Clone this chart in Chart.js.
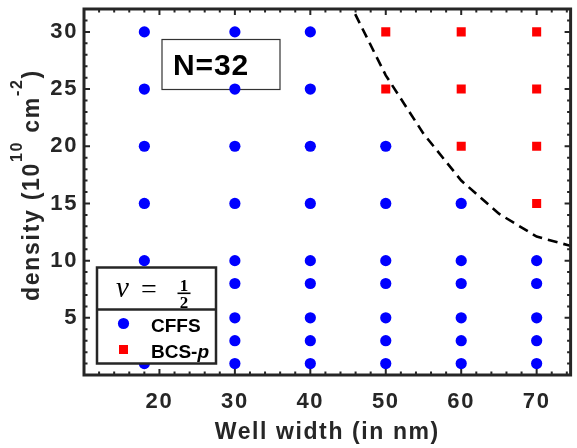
<!DOCTYPE html>
<html lang="en">
<head>
<meta charset="UTF-8">
<title>N=32</title>
<script src="https://cdn.jsdelivr.net/npm/chart.js"></script>
<style>
  html, body { margin: 0; padding: 0; background: #fff; }
</style>
</head>
<body>
<canvas id="grafico" width="577" height="448"></canvas>
<script>
// dados
const wellWidths = [18, 30, 40, 50, 60, 70];
const cffsDensities = [
  [1, 3, 5, 8, 10, 15, 20, 25, 30],
  [1, 3, 5, 8, 10, 15, 20, 25, 30],
  [1, 3, 5, 8, 10, 15, 20, 25, 30],
  [1, 3, 5, 8, 10, 15, 20],
  [1, 3, 5, 8, 10, 15],
  [1, 3, 5, 8, 10]
];
const bcsDensities = [
  [],
  [],
  [],
  [25, 30],
  [20, 25, 30],
  [15, 20, 25, 30]
];
const boundaryWidths = [45, 50, 55, 60, 65, 70, 75];
const boundaryDensities = [32.8, 26.2, 21.1, 17.0, 14.1, 12.1, 11.2];
const xTickLabels = [20, 30, 40, 50, 60, 70];
const yTickLabels = [5, 10, 15, 20, 25, 30];

const corEixo = '#262626';
const fonte = 'Liberation Sans, Arial, sans-serif';

function pontos(lista) {
  const out = [];
  for (let i = 0; i < wellWidths.length; i++) {
    for (const d of lista[i]) out.push({ x: wellWidths[i], y: d });
  }
  return out;
}

const linhaLimite = boundaryWidths.map((w, i) => ({ x: w, y: boundaryDensities[i] }));

// espacamento das letras dos eixos (texto do matlab sai mais largo)
const espacamento = {
  id: 'espacamento',
  beforeDraw(chart) { chart.ctx.letterSpacing = '1.6px'; },
  afterDraw(chart) { chart.ctx.letterSpacing = '0px'; }
};

// moldura com ticks para dentro
const moldura = {
  id: 'moldura',
  afterDatasetsDraw(chart) {
    const { ctx, chartArea: a, scales } = chart;
    const sx = scales.x, sy = scales.y;
    ctx.save();
    ctx.strokeStyle = corEixo;
    ctx.lineWidth = 2;
    ctx.beginPath();
    for (let v = 10; v <= 74; v += 2) {
      const px = sx.getPixelForValue(v);
      const len = xTickLabels.includes(v) ? 6 : 3.5;
      ctx.moveTo(px, a.bottom); ctx.lineTo(px, a.bottom - len);
      ctx.moveTo(px, a.top); ctx.lineTo(px, a.top + len);
    }
    for (let v = 1; v < 32; v++) {
      const py = sy.getPixelForValue(v);
      const len = yTickLabels.includes(v) ? 6 : 3.5;
      ctx.moveTo(a.left, py); ctx.lineTo(a.left + len, py);
      ctx.moveTo(a.right, py); ctx.lineTo(a.right - len, py);
    }
    ctx.stroke();
    ctx.lineWidth = 3;
    ctx.strokeRect(a.left, a.top, a.right - a.left, a.bottom - a.top);
    ctx.restore();
  }
};

// caixa N=32 (atras dos pontos)
const caixaN = {
  id: 'caixaN',
  beforeDatasetsDraw(chart) {
    const ctx = chart.ctx;
    ctx.save();
    ctx.letterSpacing = '0.8px';
    ctx.strokeStyle = '#333';
    ctx.lineWidth = 1.2;
    ctx.strokeRect(162, 39.5, 118, 50);
    ctx.fillStyle = '#000';
    ctx.font = 'bold 30px ' + fonte;
    ctx.textAlign = 'center';
    ctx.textBaseline = 'alphabetic';
    ctx.fillText('N=32', 211, 75);
    ctx.restore();
  }
};

// legenda desenhada dentro da area
const legenda = {
  id: 'legenda',
  afterDraw(chart) {
    const ctx = chart.ctx;
    const x0 = 97, y0 = 267.5, w = 119, h = 96, div = 309.5;
    ctx.save();
    ctx.letterSpacing = '0px';
    ctx.fillStyle = '#fff';
    ctx.fillRect(x0, y0, w, h);
    ctx.strokeStyle = corEixo;
    ctx.lineWidth = 2.5;
    ctx.strokeRect(x0, y0, w, h);
    ctx.beginPath();
    ctx.moveTo(x0, div); ctx.lineTo(x0 + w, div);
    ctx.stroke();

    // titulo nu = 1/2
    ctx.fillStyle = '#000';
    ctx.textBaseline = 'alphabetic';
    ctx.textAlign = 'left';
    ctx.font = 'italic 29px Liberation Serif, serif';
    ctx.fillText('\u03bd', 116, 296.5);
    ctx.font = '28px Liberation Serif, serif';
    ctx.fillText('=', 141, 297.5);
    ctx.textAlign = 'center';
    ctx.font = 'bold 17px Liberation Serif, serif';
    ctx.fillText('1', 184, 290.5);
    ctx.fillText('2', 184, 307.5);
    ctx.fillRect(177.5, 292.5, 13, 1.6);

    // itens
    const ds = chart.data.datasets;
    const itens = [
      { d: ds[0], y: 323.5 },
      { d: ds[1], y: 349.5 }
    ];
    for (const it of itens) {
      ctx.fillStyle = it.d.backgroundColor;
      Chart.helpers.drawPoint(ctx, {
        pointStyle: it.d.pointStyle,
        radius: it.d.pointRadius,
        borderWidth: 0,
        rotation: 0
      }, 123.5, it.y);
    }
    ctx.fillStyle = '#000';
    ctx.textAlign = 'left';
    ctx.font = 'bold 19px ' + fonte;
    ctx.fillText('CFFS', 151, 331.5);
    ctx.fillText('BCS-', 151, 357.5);
    const wb = ctx.measureText('BCS-').width;
    ctx.font = 'italic bold 19px ' + fonte;
    ctx.fillText('p', 151 + wb, 357.5);
    ctx.restore();
  }
};

// titulo do eixo y com expoentes
const tituloY = {
  id: 'tituloY',
  afterDraw(chart) {
    const ctx = chart.ctx;
    const partes = [
      { t: 'density (10', s: 23, dy: 0 },
      { t: '10', s: 16, dy: -17 },
      { t: ' cm', s: 23, dy: 0 },
      { t: '-2', s: 16, dy: -17 },
      { t: ')', s: 23, dy: 0 }
    ];
    ctx.save();
    ctx.letterSpacing = '1.7px';
    ctx.fillStyle = corEixo;
    ctx.textBaseline = 'alphabetic';
    ctx.textAlign = 'left';
    let total = 0;
    for (const p of partes) {
      ctx.font = 'bold ' + p.s + 'px ' + fonte;
      p.w = ctx.measureText(p.t).width;
      total += p.w;
    }
    ctx.translate(39, 185);
    ctx.rotate(-Math.PI / 2);
    let cx = -total / 2;
    for (const p of partes) {
      ctx.font = 'bold ' + p.s + 'px ' + fonte;
      ctx.fillText(p.t, cx, p.dy);
      cx += p.w;
    }
    ctx.restore();
  }
};

const ctx = document.getElementById('grafico');

new Chart(ctx, {
  type: 'scatter',
  data: {
    datasets: [
      {
        label: 'CFFS',
        data: pontos(cffsDensities),
        backgroundColor: '#0000ff',
        borderColor: '#0000ff',
        borderWidth: 0,
        pointStyle: 'circle',
        pointRadius: 5.6,
        pointHoverRadius: 5.6
      },
      {
        label: 'BCS-p',
        data: pontos(bcsDensities),
        backgroundColor: '#ff0000',
        borderColor: '#ff0000',
        borderWidth: 0,
        pointStyle: 'rect',
        pointRadius: 6.4,
        pointHoverRadius: 6.4
      },
      {
        type: 'line',
        label: 'limite',
        data: linhaLimite,
        borderColor: '#000',
        borderWidth: 2.6,
        borderDash: [10, 6],
        pointRadius: 0,
        fill: false,
        tension: 0
      }
    ]
  },
  options: {
    responsive: false,
    devicePixelRatio: 1,
    animation: false,
    events: [],
    layout: { padding: { top: 9, right: 4, left: 0, bottom: 0 } },
    plugins: {
      legend: { display: false },
      tooltip: { enabled: false }
    },
    scales: {
      x: {
        type: 'linear',
        min: 10,
        max: 74.5,
        afterBuildTicks: s => { s.ticks = xTickLabels.map(v => ({ value: v })); },
        afterFit: s => { s.height = 73; s.paddingLeft = 0; s.paddingRight = 0; },
        grid: { display: false, drawTicks: false },
        border: { display: false },
        ticks: {
          font: { family: fonte, size: 22, weight: 'bold' },
          color: corEixo,
          padding: 14,
          maxRotation: 0,
          autoSkip: false
        },
        title: {
          display: true,
          text: 'Well width (in nm)',
          font: { family: fonte, size: 23, weight: 'bold' },
          color: corEixo,
          padding: { top: 0, bottom: 2 }
        }
      },
      y: {
        min: 0,
        max: 32,
        afterBuildTicks: s => { s.ticks = yTickLabels.map(v => ({ value: v })); },
        afterFit: s => { s.width = 84; s.paddingTop = 0; s.paddingBottom = 0; },
        grid: { display: false, drawTicks: false },
        border: { display: false },
        ticks: {
          font: { family: fonte, size: 22, weight: 'bold' },
          color: corEixo,
          padding: 6,
          autoSkip: false
        }
      }
    }
  },
  plugins: [espacamento, caixaN, moldura, legenda, tituloY]
});
</script>
</body>
</html>
